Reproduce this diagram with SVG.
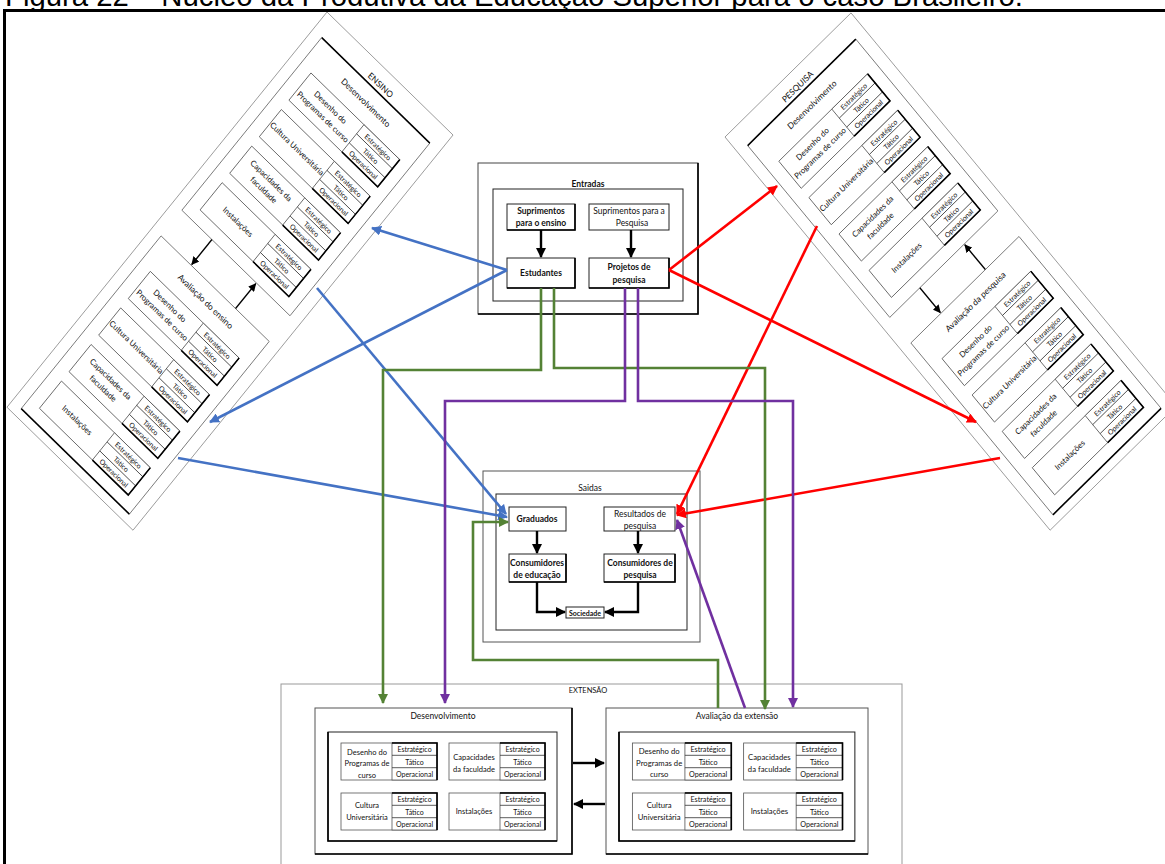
<svg xmlns="http://www.w3.org/2000/svg" xmlns:xlink="http://www.w3.org/1999/xlink" width="1165" height="864" viewBox="0 0 1165 864">
  <style>
    text { font-family: Lato, "Liberation Sans", sans-serif; fill: #111; }
    .cap { font-family: "Liberation Sans", Arial, sans-serif; font-size: 29.3px; fill: #000; }
    .t { font-size: 8.5px; text-anchor: middle; }
    .rl { font-size: 8px; text-anchor: middle; }
    .xl { font-size: 7.5px; text-anchor: middle; }
    .lv { font-size: 7px; text-anchor: middle; }
    .b { font-weight: bold; }
    .thin { fill: #fff; stroke: #8c8c8c; stroke-width: 0.8; }
    .box { fill: #fff; stroke: #222; stroke-width: 1; }
    .gbox { fill: #fff; stroke: #777; stroke-width: 0.9; }
    .sub { fill: #fff; stroke: #555; stroke-width: 0.8; }
    .sh { fill: none; stroke: #000; stroke-width: 1.6; }
    .ln { stroke: #333; stroke-width: 0.8; }
    .blue { fill: none; stroke: #4472C4; stroke-width: 2.6; marker-end: url(#mBlue); }
    .red { fill: none; stroke: #FF0000; stroke-width: 2.6; marker-end: url(#mRed); }
    .green { fill: none; stroke: #548235; stroke-width: 2.6; marker-end: url(#mGreen); }
    .purple { fill: none; stroke: #7030A0; stroke-width: 2.6; marker-end: url(#mPurple); }
    .blk { fill: none; stroke: #000; stroke-width: 2.4; marker-end: url(#mBlack); }
    .blks { fill: none; stroke: #000; stroke-width: 1.4; marker-end: url(#mBlackS); }
  </style>
  <defs>
    <marker id="mBlue" viewBox="0 0 10 10" refX="9" refY="5" markerWidth="10" markerHeight="10" markerUnits="userSpaceOnUse" orient="auto"><path d="M0,0 L10,5 L0,10 z" fill="#4472C4"/></marker>
    <marker id="mRed" viewBox="0 0 10 10" refX="9" refY="5" markerWidth="10" markerHeight="10" markerUnits="userSpaceOnUse" orient="auto"><path d="M0,0 L10,5 L0,10 z" fill="#FF0000"/></marker>
    <marker id="mGreen" viewBox="0 0 10 10" refX="9" refY="5" markerWidth="10" markerHeight="10" markerUnits="userSpaceOnUse" orient="auto"><path d="M0,0 L10,5 L0,10 z" fill="#548235"/></marker>
    <marker id="mPurple" viewBox="0 0 10 10" refX="9" refY="5" markerWidth="10" markerHeight="10" markerUnits="userSpaceOnUse" orient="auto"><path d="M0,0 L10,5 L0,10 z" fill="#7030A0"/></marker>
    <marker id="mBlack" viewBox="0 0 10 10" refX="9" refY="5" markerWidth="10" markerHeight="10" markerUnits="userSpaceOnUse" orient="auto"><path d="M0,0 L10,5 L0,10 z" fill="#000"/></marker>
    <marker id="mBlackS" viewBox="0 0 10 10" refX="9" refY="5" markerWidth="8" markerHeight="8" markerUnits="userSpaceOnUse" orient="auto"><path d="M0,0 L10,5 L0,10 z" fill="#000"/></marker>

    <!-- one factor row of a rotated panel: label cell + three levels -->
    <g id="rlev">
      <rect class="sub" x="26" y="0" width="124" height="35"/>
      <rect class="sub" x="100" y="0" width="50" height="35"/>
      <line class="ln" x1="100" y1="11.7" x2="150" y2="11.7"/>
      <line class="ln" x1="100" y1="23.3" x2="150" y2="23.3"/>
      <path class="sh" d="M100,35 L150,35 L150,0"/>
      <text class="lv" x="125" y="9">Estratégico</text>
      <text class="lv" x="125" y="20.5">Tático</text>
      <text class="lv" x="125" y="32">Operacional</text>
    </g>

    <!-- shared body of the ENSINO / PESQUISA panels, in upright local units -->
    <g id="core">
      <rect class="thin" x="0" y="0" width="176" height="508"/>
      <rect class="gbox" x="12" y="22" width="151" height="222"/>
      <path class="sh" d="M12,22 L163,22"/>
      <rect class="gbox" x="12" y="277" width="151" height="222"/>
      <path class="sh" d="M12,499 L163,499"/>
      <text class="t" x="87.5" y="41">Desenvolvimento</text>
      <use xlink:href="#rlev" y="55"/>
      <use xlink:href="#rlev" y="102"/>
      <use xlink:href="#rlev" y="149"/>
      <use xlink:href="#rlev" y="196"/>
      <use xlink:href="#rlev" y="310"/>
      <use xlink:href="#rlev" y="357"/>
      <use xlink:href="#rlev" y="404"/>
      <use xlink:href="#rlev" y="451"/>
      <text class="rl" x="63" y="69">Desenho do</text>
      <text class="rl" x="63" y="81">Programas de curso</text>
      <text class="rl" x="63" y="122">Cultura Universitária</text>
      <text class="rl" x="63" y="163">Capacidades da</text>
      <text class="rl" x="63" y="175">faculdade</text>
      <text class="rl" x="63" y="216">Instalações</text>
      <text class="rl" x="63" y="324">Desenho do</text>
      <text class="rl" x="63" y="336">Programas de curso</text>
      <text class="rl" x="63" y="377">Cultura Universitária</text>
      <text class="rl" x="63" y="418">Capacidades da</text>
      <text class="rl" x="63" y="430">faculdade</text>
      <text class="rl" x="63" y="471">Instalações</text>
      <path class="blks" d="M54,244 L54,276"/>
      <path class="blks" d="M116,277 L116,245"/>
    </g>

    <!-- one factor row of the EXTENSÃO panels -->
    <g id="xlev">
      <rect class="sub" x="0" y="0" width="96" height="37"/>
      <rect class="sub" x="51" y="0" width="45" height="37"/>
      <line class="ln" x1="51" y1="12.3" x2="96" y2="12.3"/>
      <line class="ln" x1="51" y1="24.7" x2="96" y2="24.7"/>
      <path class="sh" d="M51,0 L96,0 L96,37"/>
      <text class="lv" x="73.5" y="9.3">Estratégico</text>
      <text class="lv" x="73.5" y="21.6">Tático</text>
      <text class="lv" x="73.5" y="34">Operacional</text>
    </g>

    <!-- the 2x2 factor grid of an EXTENSÃO panel -->
    <g id="xgrid">
      <rect class="box" x="328" y="732" width="229" height="109"/>
      <path class="sh" d="M328,732 L328,841 L557,841"/>
      <use xlink:href="#xlev" x="341" y="743"/>
      <use xlink:href="#xlev" x="449" y="743"/>
      <use xlink:href="#xlev" x="341" y="793"/>
      <use xlink:href="#xlev" x="449" y="793"/>
      <text class="xl" x="367" y="754.5">Desenho do</text>
      <text class="xl" x="367" y="766">Programas de</text>
      <text class="xl" x="367" y="777.5" font-size="6.5">curso</text>
      <text class="xl" x="474" y="760">Capacidades</text>
      <text class="xl" x="474" y="772">da faculdade</text>
      <text class="xl" x="367" y="808">Cultura</text>
      <text class="xl" x="367" y="820">Universitária</text>
      <text class="xl" x="474" y="814">Instalações</text>
    </g>
  </defs>

  <rect x="0" y="0" width="1165" height="864" fill="#fff"/>

  <!-- caption and frame -->
  <text class="cap" x="5" y="5.5">Figura 22 – Núcleo da Produtiva da Educação Superior para o caso Brasileiro.</text>
  <path d="M4.5,864 L4.5,10.5 L1165,10.5" fill="none" stroke="#000" stroke-width="3"/>

  <!-- ENSINO panel -->
  <g id="ensino" transform="matrix(0.716,0.699,-0.630,0.778,327,12)">
    <use xlink:href="#core"/>
    <text class="t" x="88" y="18">ENSINO</text>
    <text class="t" x="88" y="296">Avaliação do ensino</text>
  </g>

  <!-- PESQUISA panel -->
  <g id="pesquisa" transform="matrix(0.716,-0.705,0.640,0.774,725,137)">
    <use xlink:href="#core"/>
    <text class="t" x="88" y="18">PESQUISA</text>
    <text class="t" x="88" y="296">Avaliação da pesquisa</text>
  </g>

  <!-- Entradas -->
  <g id="entradas">
    <rect x="478" y="163" width="220" height="151" fill="#fff" stroke="#444" stroke-width="1"/>
    <path class="sh" d="M478,314 L698,314 L698,163"/>
    <rect class="box" x="493" y="189" width="190" height="112"/>
    <text class="t b" x="588" y="187">Entradas</text>
    <g id="sup-ensino">
      <rect class="box" x="507" y="204" width="68" height="26"/>
      <path class="sh" d="M507,230 L575,230 L575,204"/>
      <text class="t b" x="541" y="214">Suprimentos</text>
      <text class="t b" x="541" y="226">para o ensino</text>
    </g>
    <g id="sup-pesquisa">
      <rect class="box" x="589" y="204" width="80" height="26"/>
      <text class="t" x="629" y="214">Suprimentos para a</text>
      <text class="t" x="632" y="226">Pesquisa</text>
    </g>
    <g id="estudantes">
      <rect class="box" x="507" y="258" width="68" height="30"/>
      <path class="sh" d="M507,288 L575,288 L575,258"/>
      <text class="t b" x="541" y="276">Estudantes</text>
    </g>
    <g id="projetos">
      <rect class="box" x="589" y="258" width="80" height="30"/>
      <path class="sh" d="M589,288 L669,288 L669,258"/>
      <text class="t b" x="629" y="270">Projetos de</text>
      <text class="t b" x="629" y="283">pesquisa</text>
    </g>
    <path class="blk" d="M541,230 L541,257"/>
    <path class="blk" d="M631,230 L631,257"/>
  </g>

  <!-- Saídas -->
  <g id="saidas">
    <rect x="483" y="471" width="217" height="171" fill="#fff" stroke="#555" stroke-width="1"/>
    <rect class="box" x="496" y="494" width="191" height="136"/>
    <text class="t" x="590" y="491">Saidas</text>
    <g id="graduados">
      <rect class="box" x="509" y="507" width="57" height="24"/>
      <text class="t b" x="537" y="522">Graduados</text>
    </g>
    <g id="resultados">
      <rect class="box" x="604" y="507" width="71" height="24"/>
      <text class="t" x="640" y="517">Resultados de</text>
      <text class="t" x="640" y="529">pesquisa</text>
    </g>
    <g id="cons-educacao">
      <rect class="box" x="509" y="554" width="57" height="28"/>
      <path class="sh" d="M509,582 L566,582 L566,554"/>
      <text class="t b" x="537" y="566">Consumidores</text>
      <text class="t b" x="537" y="578">de educação</text>
    </g>
    <g id="cons-pesquisa">
      <rect class="box" x="604" y="554" width="71" height="28"/>
      <path class="sh" d="M604,582 L675,582 L675,554"/>
      <text class="t b" x="640" y="566">Consumidores de</text>
      <text class="t b" x="640" y="578">pesquisa</text>
    </g>
    <g id="sociedade">
      <rect class="box" x="566" y="607" width="38" height="11"/>
      <text class="lv b" x="585" y="615.5">Sociedade</text>
    </g>
    <path class="blk" d="M537,531 L537,553"/>
    <path class="blk" d="M638,531 L638,553"/>
    <path class="blk" d="M537,582 L537,612 L565,612"/>
    <path class="blk" d="M638,582 L638,612 L605,612"/>
  </g>

  <!-- EXTENSÃO -->
  <g id="extensao">
    <rect x="281" y="684" width="621" height="200" fill="#fff" stroke="#999" stroke-width="1"/>
    <text class="xl" x="588" y="693">EXTENSÃO</text>
    <g id="ext-desenvolvimento">
      <rect x="315" y="708" width="257" height="146" fill="#fff" stroke="#555" stroke-width="1"/>
      <path class="sh" d="M315,854 L572,854 L572,708"/>
      <text class="t" x="443" y="719">Desenvolvimento</text>
      <use xlink:href="#xgrid"/>
    </g>
    <g id="ext-avaliacao">
      <rect x="606" y="708" width="262" height="146" fill="#fff" stroke="#555" stroke-width="1"/>
      <path class="sh" d="M606,854 L868,854"/>
      <text class="t" x="737" y="719">Avaliação da extensão</text>
      <use xlink:href="#xgrid" transform="translate(619,0) scale(1.03,1) translate(-328,0)"/>
    </g>
    <path class="blk" d="M573,763 L604,763"/>
    <path class="blk" d="M605,804 L574,804"/>
  </g>

  <!-- connectors -->
  <g id="connectors">
    <path class="blue" d="M507,270 L372,228"/>
    <path class="blue" d="M507,270 L210,422"/>
    <path class="blue" d="M317,288 L506,514"/>
    <path class="blue" d="M178,458 L507,517"/>

    <path class="red" d="M669,270 L777,186"/>
    <path class="red" d="M669,270 L976,422"/>
    <path class="red" d="M817,226 L677,514"/>
    <path class="red" d="M1000,458 L677,515"/>

    <path class="green" d="M541,288 L541,370 L383,370 L383,703"/>
    <path class="green" d="M554,288 L554,368 L765,368 L765,709"/>
    <path class="green" d="M718,708 L718,660 L473,660 L473,522 L508,522"/>

    <path class="purple" d="M625,288 L625,401 L445,401 L445,703"/>
    <path class="purple" d="M638,288 L638,401 L793,401 L793,707"/>
    <path class="purple" d="M745,708 L677,520"/>
  </g>
</svg>
